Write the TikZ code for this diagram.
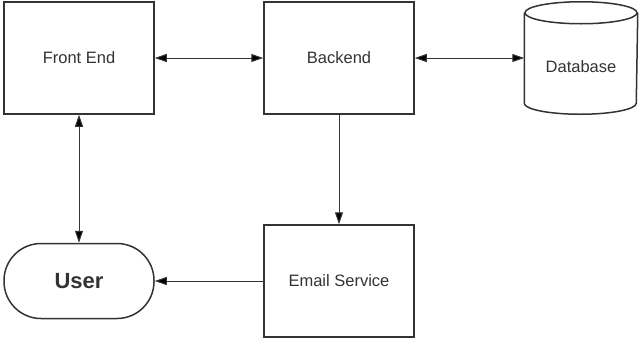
\documentclass[tikz,border=0pt]{standalone}
\usepackage{fontspec}
\setmainfont{Liberation Sans}
\usetikzlibrary{arrows.meta}
\definecolor{linegray}{HTML}{333333}

\begin{document}
\begin{tikzpicture}[x=1pt, y=-1pt, >={Triangle[length=12pt,width=8pt]}, auto, node distance=260pt,
    box/.style={draw=linegray, line width=1.5pt, minimum width=150pt, minimum height=112pt,
        text=linegray, font=\fontsize{16.5}{20}\selectfont},
    store/.style={inner sep=0pt, outer sep=0.75pt, minimum width=112pt, minimum height=111pt},
    person/.style={draw=linegray, line width=1.5pt, rounded corners=37pt, minimum width=150pt,
        minimum height=75pt, text=linegray, font=\fontsize{22}{26}\selectfont\bfseries},
    link/.style={draw=linegray, line width=1pt}]
    \useasboundingbox (0,0) rectangle (639,338);

    % Nodes {frontend, backend, database, user, email}
    \node [box]     (frontend)  at (79,58)                         {Front End};
    \node [box]     (backend)   [right of=frontend]                {Backend};
    \node [store, label={[yshift=-9pt, text=linegray, font=\fontsize{16.5}{20}\selectfont]center:Database}]
                    (database)  [right of=backend, node distance=242pt] {};
    \node [person]  (user)      [below of=frontend, node distance=223pt] {User};
    \node [box]     (email)     [below of=backend, node distance=223pt]  {Email Service};

    % Database drum
    \draw [draw=linegray, line width=1.5pt] ([yshift=-11pt]database.north) ellipse [x radius=56pt, y radius=11pt];
    \draw [draw=linegray, line width=1.5pt] ([yshift=-11pt]database.north west)
        -- ([yshift=11pt]database.south west)
        arc [start angle=180, end angle=360, x radius=56pt, y radius=11pt]
        -- ([yshift=-11pt]database.north east);

    % Paths
    \path [link, <->]  (frontend) edge  (backend);
    \path [link, <->]  (backend)  edge  (database);
    \path [link, <->]  (frontend) edge  (user);
    \path [link, ->]   (backend)  edge  (email);
    \path [link, ->]   (email)    edge  (user);

\end{tikzpicture}
\end{document}
